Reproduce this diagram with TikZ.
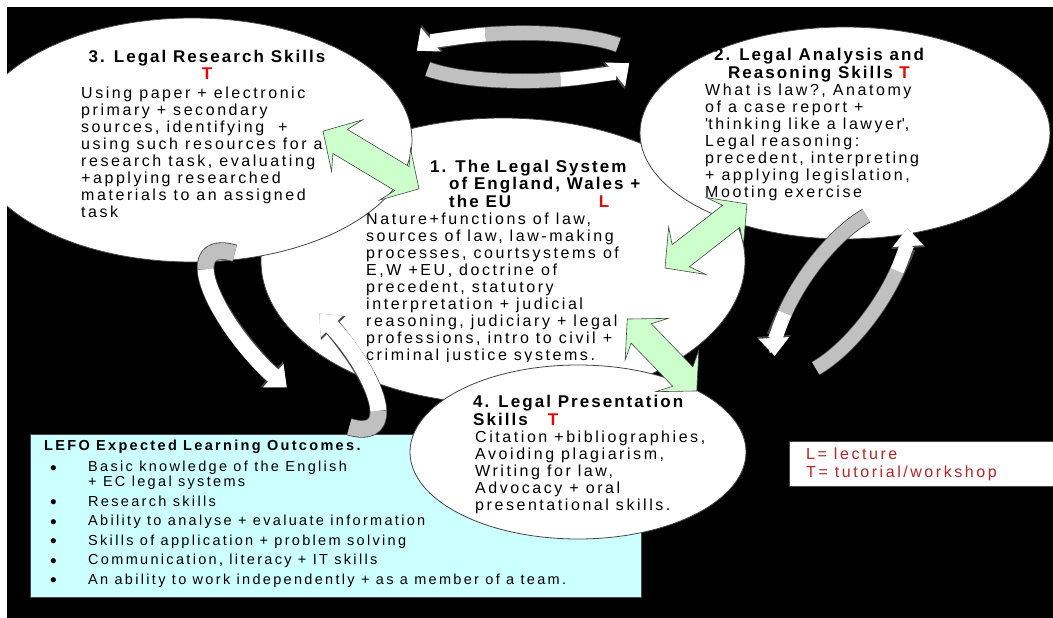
\documentclass[tikz,border=0pt]{standalone}
\usepackage{fontspec}
\setmainfont{Liberation Sans}
\newfontfamily\bodyfont[LetterSpace=16]{Liberation Sans}
\newfontfamily\headfont[LetterSpace=12]{Liberation Sans}
\usetikzlibrary{arrows.meta,shapes.geometric}

\definecolor{outcyan}{RGB}{204,255,255}
\definecolor{linkgreen}{RGB}{204,255,204}
\definecolor{ringgray}{RGB}{192,192,192}
\definecolor{lettred}{RGB}{225,10,10}
\definecolor{keyred}{RGB}{175,40,40}
\definecolor{rimgray}{RGB}{70,70,70}

\newcommand{\lettr}[1]{\textcolor{lettred}{#1}}
\newcommand{\outitem}{\hspace*{6pt}\makebox[38pt][l]{\raisebox{-2.5pt}{\fontsize{19}{15}\selectfont\textbullet}}}
\newcommand{\outcont}{\hspace*{44pt}}

% green two-headed block arrow: centre, angle, half length
\newcommand{\twinarrow}[3]{%
  \begin{scope}[shift={#1}, rotate=#2]
    \filldraw[link] (-#3,0) -- (-#3+28,30) -- (-#3+20,14) -- (#3-20,14) -- (#3-28,30)
      -- (#3,0) -- (#3-28,-30) -- (#3-20,-14) -- (-#3+20,-14) -- (-#3+28,-30) -- cycle;
  \end{scope}}

% one arrow of a cycle: start, colour switch, end, x radius, y radius, band width
\newcommand{\cyclearc}[6]{%
  \draw[ringrim, line width=#6+1.6pt] (#1:#4 and #5) arc[start angle=#1, end angle=#3, x radius=#4, y radius=#5];
  \draw[ringtail, line width=#6] (#1:#4 and #5) arc[start angle=#1, end angle=#2, x radius=#4, y radius=#5];
  \draw[ringhead, line width=#6] (#2:#4 and #5) arc[start angle=#2, end angle=#3, x radius=#4, y radius=#5];}

\begin{document}
\begin{tikzpicture}[
  x=1pt, y=1pt,
  bubble/.style={ellipse, draw=rimgray, fill=white, line width=0.8pt, inner sep=0pt},
  panel/.style={draw=rimgray, fill=outcyan, line width=0.5pt},
  keybox/.style={draw=rimgray, fill=white, line width=0.5pt},
  link/.style={draw=rimgray, fill=linkgreen, line width=0.6pt, line join=miter},
  ringrim/.style={draw=rimgray, -{Triangle[width=33pt,length=20pt]}},
  ringtail/.style={draw=ringgray},
  ringhead/.style={draw=white, -{Triangle[width=30pt,length=18pt]}},
  headtext/.style={font=\headfont\bfseries\fontsize{17}{17.5}\selectfont, inner sep=0pt},
  bodytext/.style={font=\bodyfont\fontsize{16}{17}\selectfont, align=left, inner sep=0pt},
  listtext/.style={font=\bodyfont\fontsize{14.5}{15}\selectfont, align=left, inner sep=0pt},
  keytext/.style={font=\bodyfont\fontsize{16}{18}\selectfont, align=left, inner sep=0pt, text=keyred}
]
  \useasboundingbox (0,0) rectangle (1053,-618);
  \fill[black] (7,-7) rectangle (1053,-618);

  \begin{scope}
  \clip (7,-7) rectangle (1053,-618);

  % outcomes panel and key
  \node[panel, minimum width=611pt, minimum height=163pt, anchor=north west] (lefo) at (30,-434) {};
  \node[keybox, minimum width=270pt, minimum height=45pt, anchor=north west] (keyframe) at (789,-441) {};

  % skill bubbles
  \node[bubble, minimum width=484pt, minimum height=286pt] (system) at (503,-261) {};
  \node[bubble, minimum width=440pt, minimum height=244pt] (research) at (192,-140) {};
  \node[bubble, minimum width=410pt, minimum height=212pt] (analysis) at (845,-133) {};
  \node[bubble, minimum width=336pt, minimum height=174pt] (present) at (578,-452) {};

  % texts of the bubbles (base = last line)
  \node[headtext, align=center, anchor=base] (researchhead) at (207,-80)
    {3. Legal Research Skills\\\lettr{T}};
  \node[bodytext, anchor=base west] (researchbody) at (81,-217)
    {Using paper + electronic\\primary + secondary\\sources, identifying \ +\\using such resources for a\\research task, evaluating\\+applying researched\\materials to an assigned\\task};

  \node[headtext, align=left, anchor=base west] (systemhead) at (430,-207)
    {1. The Legal System\\\hspace*{19pt}of England, Wales +\\\hspace*{19pt}the EU};
  \node[headtext, anchor=base] (systemkey) at (604,-207) {\lettr{L}};
  \begin{scope}
    \clip (350,-200) rectangle (720,-361);
    \node[bodytext, anchor=base west] (systembody) at (366,-360)
      {Nature+functions of law,\\sources of law, law-making\\processes, courtsystems of\\E,W +EU, doctrine of\\precedent, statutory\\interpretation + judicial\\reasoning, judiciary + legal\\professions, intro to civil +\\criminal justice systems.};
  \end{scope}

  \node[headtext, align=center, anchor=base] (analysishead) at (819,-78)
    {2. Legal Analysis and\\Reasoning Skills \lettr{T}};
  \node[bodytext, anchor=base west] (analysisbody) at (705,-197)
    {What is law?, Anatomy\\of a case report +\\\textquotesingle thinking like a lawyer\textquotesingle,\\Legal reasoning:\\precedent, interpreting\\+ applying legislation,\\Mooting exercise};

  \node[headtext, align=left, anchor=base west] (presenthead) at (473,-425)
    {4. Legal Presentation\\Skills\hspace*{20pt}\lettr{T}};
  \node[bodytext, anchor=base west] (presentbody) at (475,-510)
    {Citation +bibliographies,\\Avoiding plagiarism,\\Writing for law,\\Advocacy + oral\\presentational skills.};

  % outcomes list
  \node[listtext, anchor=base west] (outcomes) at (44,-584)
    {\textbf{LEFO Expected Learning Outcomes.}\\[6pt]
     \outitem Basic knowledge of the English\\
     \outcont + EC legal systems\\[4.5pt]
     \outitem Research skills\\[4.5pt]
     \outitem Ability to analyse + evaluate information\\[4.5pt]
     \outitem Skills of application + problem solving\\[4.5pt]
     \outitem Communication, literacy + IT skills\\[4.5pt]
     \outitem An ability to work independently + as a member of a team.};

  \node[keytext, anchor=base west] (keylines) at (806,-477) {L= lecture\\T= tutorial/workshop};

  % green links between the bubbles
  \twinarrow{(371,-160)}{-31}{56}
  \twinarrow{(706,-236)}{38}{52}
  \twinarrow{(662,-355)}{-46}{50}

  % cycle arrows
  \begin{scope}[shift={(523,-57)}]
    \cyclearc{30}{110}{165}{110}{24}{14pt}
    \cyclearc{210}{290}{345}{110}{24}{14pt}
  \end{scope}
  \begin{scope}[shift={(292,-340)}, rotate=-46]
    \cyclearc{150}{200}{285}{118}{38}{16pt}
    \cyclearc{330}{380}{450}{118}{38}{16pt}
  \end{scope}
  \begin{scope}[shift={(841,-292)}, rotate=54]
    \cyclearc{220}{300}{335}{100}{38}{14pt}
    \cyclearc{40}{120}{155}{100}{38}{14pt}
  \end{scope}
  \end{scope}
\end{tikzpicture}
\end{document}
